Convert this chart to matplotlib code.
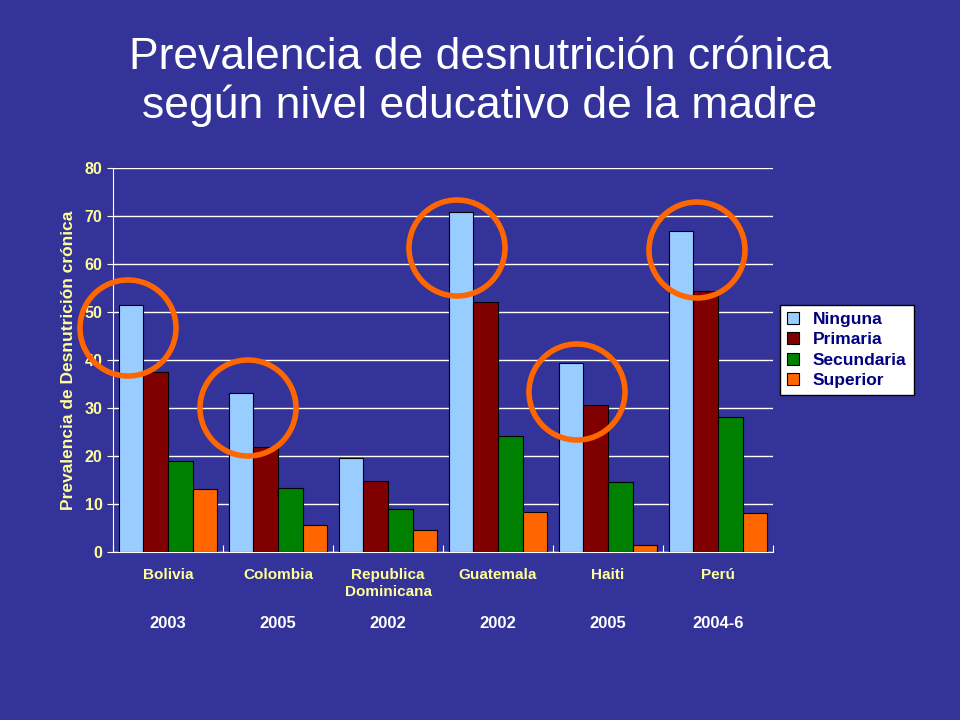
import matplotlib
matplotlib.use("Agg")
import matplotlib.pyplot as plt
import numpy as np
from matplotlib.patches import Ellipse

plt.rcParams["font.family"] = "Liberation Sans"

categories = ["Bolivia", "Colombia", "Republica\nDominicana", "Guatemala", "Haiti", "Perú"]
years = ["2003", "2005", "2002", "2002", "2005", "2004-6"]
series = ["Ninguna", "Primaria", "Secundaria", "Superior"]
ninguna = [51.5, 33.1, 19.6, 70.8, 39.4, 66.9]
primaria = [37.5, 21.9, 14.8, 52.1, 30.6, 54.4]
secundaria = [19.0, 13.3, 9.0, 24.2, 14.6, 28.1]
superior = [13.1, 5.6, 4.6, 8.3, 1.5, 8.1]
colors = ["#99ccff", "#800000", "#008000", "#ff6600"]

bg = "#333399"
yellow = "#ffff99"
fig = plt.figure(figsize=(9.6, 7.2), dpi=100, facecolor=bg)
ax = fig.add_axes([113/960, 1-552/720, 660/960, 384/720], facecolor=bg)
x = np.arange(len(categories))
w = 0.223
for i, (vals, c, name) in enumerate(zip([ninguna, primaria, secundaria, superior], colors, series)):
    ax.bar(x + (i - 1.5) * w, vals, w, color=c, edgecolor="black", linewidth=0.8, label=name, zorder=3)
ax.set_xlim(-0.5, 5.5)
ax.set_ylim(0, 80)
ax.set_yticks(range(0, 81, 10))
ax.grid(axis="y", color="white", linewidth=1, zorder=0)
ax.set_xticks(np.arange(-0.5, 6, 1))
ax.set_xticklabels([])
ax.tick_params(axis="x", length=5, color="white", direction="in")
ax.tick_params(axis="y", colors=yellow, labelsize=11.5, length=4, color="white")
for lab in ax.get_yticklabels():
    lab.set_fontweight("bold")
for s in ["top", "right"]:
    ax.spines[s].set_visible(False)
for s in ["left", "bottom"]:
    ax.spines[s].set_color("white")
for xi, (c, yr) in enumerate(zip(categories, years)):
    ax.text(xi, -3.3, c, ha="center", va="top", color=yellow, fontsize=11, fontweight="bold", linespacing=1.3)
    ax.text(xi, -13.3, yr, ha="center", va="top", color="white", fontsize=12, fontweight="bold")
ax.set_ylabel("Prevalencia de Desnutrición crónica", color=yellow, fontsize=12.5, fontweight="bold", labelpad=6)
leg = ax.legend(loc="upper left", bbox_to_anchor=((780-113)/660, 1 - (305-168)/384), frameon=True,
                fancybox=False, edgecolor="black", fontsize=12.5, handlelength=0.7, handleheight=0.7,
                borderaxespad=0, labelspacing=0.3, framealpha=1)
leg.get_frame().set_facecolor("white")
for t in leg.get_texts():
    t.set_color("#000080"); t.set_fontweight("bold")
fig.text(0.5, 1-82/720, "Prevalencia de desnutrición crónica\nsegún nivel educativo de la madre",
         ha="center", va="center", color="white", fontsize=32, linespacing=1.2)
for cx, cy in [(128, 328), (248, 408), (457, 248), (577, 392), (697, 250)]:
    fig.add_artist(Ellipse((cx/960, 1-cy/720), 96/960, 96/720, transform=fig.transFigure,
                           fill=False, edgecolor="#ff6600", linewidth=4, zorder=10))
fig.savefig("out.png", dpi=100, facecolor=bg)
